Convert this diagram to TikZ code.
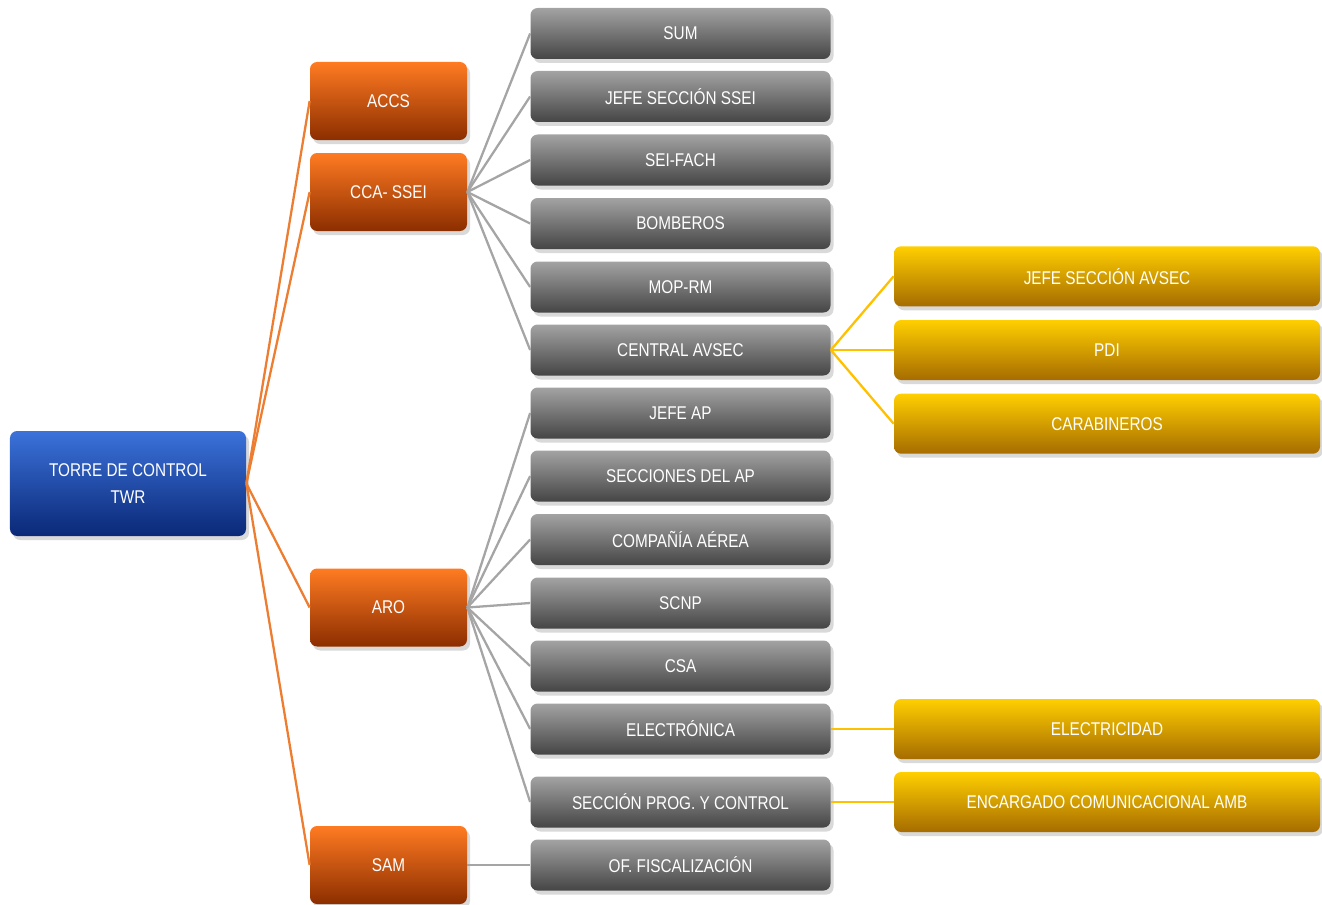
\documentclass[tikz,border=0pt]{standalone}
\usepackage{fontspec}
\setmainfont{Liberation Sans}[FakeStretch=0.83]
\usetikzlibrary{positioning,shadows}

\definecolor{twrtop}{HTML}{3B72DA}
\definecolor{twrbot}{HTML}{0A2877}
\definecolor{areatop}{HTML}{FF7B22}
\definecolor{areabot}{HTML}{8C2E00}
\definecolor{unittop}{HTML}{A3A3A3}
\definecolor{unitbot}{HTML}{454545}
\definecolor{exttop}{HTML}{FFCF00}
\definecolor{extbot}{HTML}{A66C00}
\definecolor{linkorange}{HTML}{ED7D31}
\definecolor{linkgray}{HTML}{A5A5A5}
\definecolor{linkyellow}{HTML}{FFC000}

\tikzset{
  box/.style={rounded corners=4pt, text=white, align=center, inner sep=0pt,
    font=\fontsize{10.5}{15}\selectfont,
    drop shadow={opacity=0.3, shadow xshift=0.6mm, shadow yshift=-0.8mm}},
  twrbox/.style={box, top color=twrtop, bottom color=twrbot,
    minimum width=4.72cm, minimum height=2.1cm},
  areabox/.style={box, top color=areatop, bottom color=areabot,
    minimum width=3.14cm, minimum height=1.56cm},
  unitbox/.style={box, top color=unittop, bottom color=unitbot,
    minimum width=6cm, minimum height=1.02cm},
  extbox/.style={box, top color=exttop, bottom color=extbot,
    minimum width=8.52cm, minimum height=1.2cm},
  lorange/.style={draw=linkorange, line width=1.3pt},
  lgray/.style={draw=linkgray, line width=1.3pt},
  lyellow/.style={draw=linkyellow, line width=1.3pt}
}

\begin{document}
\begin{tikzpicture}[node distance=0.26cm]
  \useasboundingbox (0,0) rectangle (26.44,-18.1);

  % main node
  \node[twrbox] (twr) at (2.56,-9.67) {TORRE DE CONTROL\\TWR};

  % areas
  \node[areabox] (accs) at (7.77,-2.02)  {ACCS};
  \node[areabox] (cca)  at (7.77,-3.84)  {CCA- SSEI};
  \node[areabox] (aro)  at (7.77,-12.15) {ARO};
  \node[areabox] (sam)  at (7.77,-17.30) {SAM};

  % units
  \node[unitbox] (sum)   at (13.61,-0.67)  {SUM};
  \node[unitbox] (jssei) at (13.61,-1.93)  {JEFE SECCIÓN SSEI};
  \node[unitbox] (sei)   at (13.61,-3.20)  {SEI-FACH};
  \node[unitbox] (bomb)  at (13.61,-4.47)  {BOMBEROS};
  \node[unitbox] (mop)   at (13.61,-5.74)  {MOP-RM};
  \node[unitbox] (cavs)  at (13.61,-7.00)  {CENTRAL AVSEC};
  \node[unitbox] (jap)   at (13.61,-8.26)  {JEFE AP};
  \node[unitbox] (secap) at (13.61,-9.52)  {SECCIONES DEL AP};
  \node[unitbox] (cia)   at (13.61,-10.79) {COMPAÑÍA AÉREA};
  \node[unitbox] (scnp)  at (13.61,-12.06) {SCNP};
  \node[unitbox] (csa)   at (13.61,-13.32) {CSA};
  \node[unitbox] (elec)  at (13.61,-14.58) {ELECTRÓNICA};
  \node[unitbox] (prog)  at (13.61,-16.04) {SECCIÓN PROG. Y CONTROL};
  \node[unitbox] (fisc)  at (13.61,-17.30) {OF. FISCALIZACIÓN};

  % external
  \node[extbox] (pdi)   at (22.14,-7.00) {PDI};
  \node[extbox] (javs)  [above=of pdi] {JEFE SECCIÓN AVSEC};
  \node[extbox] (carab) [below=of pdi] {CARABINEROS};
  \node[extbox] (elect) at (22.14,-14.58) {ELECTRICIDAD};
  \node[extbox] (amb)   at (22.14,-16.04) {ENCARGADO COMUNICACIONAL AMB};

  % links
  \foreach \t in {accs,cca,aro,sam}
    \draw[lorange] (twr.east) -- (\t.west);
  \foreach \t in {sum,jssei,sei,bomb,mop,cavs}
    \draw[lgray] (cca.east) -- (\t.west);
  \foreach \t in {jap,secap,cia,scnp,csa,elec,prog}
    \draw[lgray] (aro.east) -- (\t.west);
  \draw[lgray] (sam.east) -- (fisc.west);
  \foreach \t in {javs,pdi,carab}
    \draw[lyellow] (cavs.east) -- (\t.west);
  \draw[lyellow] (elec.east) -- (elect.west);
  \draw[lyellow] (prog.east) -- (amb.west);
\end{tikzpicture}
\end{document}
